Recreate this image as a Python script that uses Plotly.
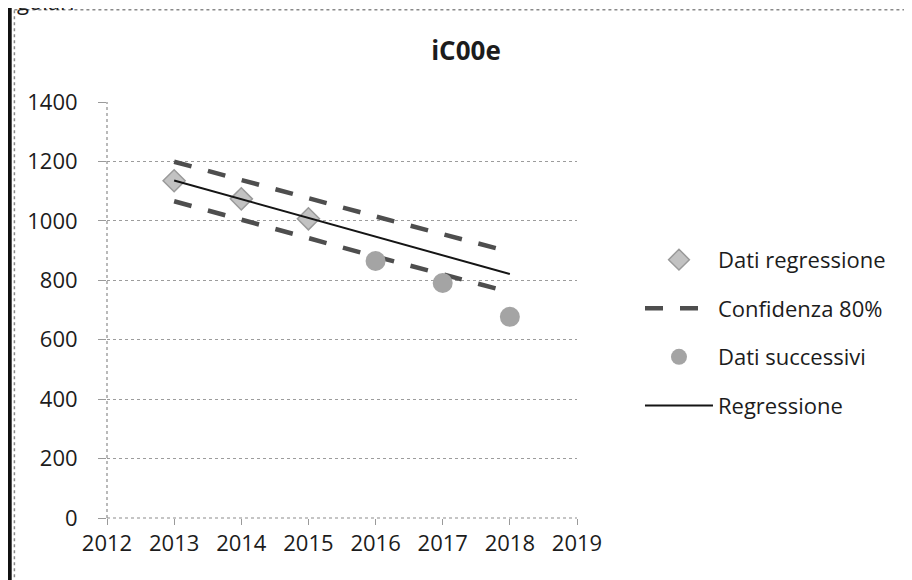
import plotly.graph_objects as go

years_reg = [2013, 2014, 2015]
vals_reg = [1135, 1074, 1007]
years_next = [2016, 2017, 2018]
vals_next = [865, 791, 677]
years_line = [2013, 2014, 2015, 2016, 2017, 2018]
conf_upper = [1199, 1137, 1075, 1015, 955, 896]
conf_lower = [1066, 1003, 940, 880, 820, 760]
regression = [1136, 1073, 1010, 947, 884, 821]
x_ticks = [2012, 2013, 2014, 2015, 2016, 2017, 2018, 2019]
y_ticks = [0, 200, 400, 600, 800, 1000, 1200, 1400]

FONT = "Open Sans"
TXT = "#1c1c1c"
fig = go.Figure()

fig.add_trace(go.Scatter(x=years_reg, y=vals_reg, mode="markers", name="Dati regressione",
                         legendgroup="a",
                         marker=dict(symbol="diamond", size=17, color="#c2c2c2",
                                     line=dict(color="#9a9a9a", width=1.5))))
fig.add_trace(go.Scatter(x=years_line, y=conf_upper, mode="lines", name="Confidenza 80%",
                         legendgroup="b",
                         line=dict(color="#4e4e4e", width=4.5, dash="18px,17px")))
fig.add_trace(go.Scatter(x=years_line, y=conf_lower, mode="lines", name="Confidenza 80%",
                         legendgroup="b", showlegend=False,
                         line=dict(color="#4e4e4e", width=4.5, dash="18px,17px")))
fig.add_trace(go.Scatter(x=years_next, y=vals_next, mode="markers", name="Dati successivi",
                         legendgroup="c",
                         marker=dict(symbol="circle", size=20, color="#a4a4a4")))
fig.add_trace(go.Scatter(x=years_line, y=regression, mode="lines", name="Regressione",
                         legendgroup="d",
                         line=dict(color="#151515", width=2)))

fig.update_layout(
    width=904, height=572,
    margin=dict(l=99, r=335, t=94, b=62),
    paper_bgcolor="white", plot_bgcolor="white",
    font=dict(family=FONT, size=22, color=TXT),
    title=dict(text="<b>iC00e</b>", x=0.5066, xanchor="center", y=0.925, yanchor="middle",
               font=dict(family=FONT, size=26, color=TXT)),
    showlegend=True,
    legend=dict(x=1.134, xanchor="left", y=0.671, yanchor="top",
                font=dict(family=FONT, size=22, color=TXT), itemwidth=68,
                tracegroupgap=17, bgcolor="rgba(0,0,0,0)"),
    xaxis=dict(range=[2012, 2019], tickvals=x_ticks, ticktext=[str(t) for t in x_ticks],
               showgrid=False, zeroline=False, showline=False,
               ticks="outside", ticklen=6, tickwidth=1,
               tickcolor="#9a9a9a", tickfont=dict(size=22), fixedrange=True),
    yaxis=dict(range=[0, 1400], tickvals=y_ticks, showgrid=True,
               gridcolor="#9c9c9c", griddash="dot", gridwidth=1,
               zeroline=False, showline=False,
               ticks="outside", ticklen=8, tickcolor="#9a9a9a", ticklabelstandoff=16,
               tickfont=dict(size=22), fixedrange=True),
)

# dotted axis lines
fig.add_shape(type="line", xref="paper", yref="paper", x0=0, x1=0, y0=0, y1=1,
              line=dict(color="#8c8c8c", width=1.2, dash="dot"), layer="below")
fig.add_shape(type="line", xref="paper", yref="paper", x0=0, x1=1, y0=0, y1=0,
              line=dict(color="#8c8c8c", width=1.2, dash="dot"), layer="below")

# scanned page frame
fig.add_shape(type="line", xref="paper", yref="paper", x0=-0.197, x1=1.7,
              y0=1.222, y1=1.222, line=dict(color="#8a8a8a", width=1.5, dash="dot"))
fig.add_shape(type="line", xref="paper", yref="paper", x0=-0.197, x1=-0.197,
              y0=-0.2, y1=1.222, line=dict(color="#8a8a8a", width=1.5, dash="dot"))
fig.add_shape(type="line", xref="paper", yref="paper", x0=-0.207, x1=-0.207,
              y0=-0.2, y1=1.3, line=dict(color="#111111", width=4))
fig.add_annotation(text="golari", xref="paper", yref="paper", x=-0.196, y=1.201,
                   xanchor="left", yanchor="bottom", showarrow=False,
                   font=dict(family=FONT, size=22, color=TXT))

fig.write_html("out.html")
